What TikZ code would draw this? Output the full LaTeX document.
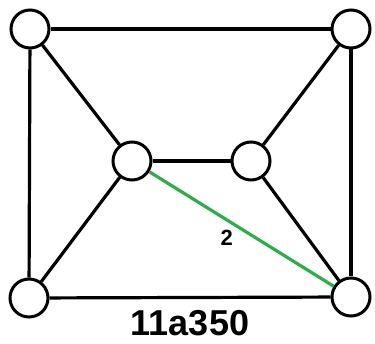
\documentclass[tikz,border=0pt]{standalone}
\usepackage{fontspec}
\setmainfont{Liberation Sans}
\usepackage{xcolor}
\usepackage{tikz}
\definecolor{EdgeGreen}{HTML}{2EAE4A}
\tikzset{
  vtx/.style   = {circle, draw=black, fill=white, line width=3pt,
                  minimum size=38pt, inner sep=0pt},
  edge/.style  = {draw=black, line width=3.2pt},
  hedge/.style = {draw=EdgeGreen, line width=3.2pt},
  elabel/.style = {font=\fontsize{22}{22}\selectfont\bfseries, text=black},
  title/.style = {font=\fontsize{36}{36}\selectfont\bfseries, text=black,
                  inner sep=0pt},
}
\begin{document}
\begin{tikzpicture}[x=1pt, y=-1pt]

  \useasboundingbox (0,0) rectangle (375,344);

  \node[vtx] (tl) at (30,29)   {};
  \node[vtx] (tr) at (351,29)  {};
  \node[vtx] (il) at (132,161) {};
  \node[vtx] (ir) at (251,161) {};
  \node[vtx] (bl) at (29,298)  {};
  \node[vtx] (br) at (351,297) {};

  \draw[edge] (tl) -- (tr);
  \draw[edge] (tl) -- (bl);
  \draw[edge] (tr) -- (br);
  \draw[edge] (bl) -- (br);
  \draw[edge] (tl) -- (il);
  \draw[edge] (tr) -- (ir);
  \draw[edge] (il) -- (ir);
  \draw[edge] (il) -- (bl);
  \draw[edge] (ir) -- (br);
  \draw[hedge] (il) -- (br)
    node[elabel, pos=0.42, below=5pt] (two) {2};

  \node[title] (name) at (190,323) {11a350};

\end{tikzpicture}
\end{document}
